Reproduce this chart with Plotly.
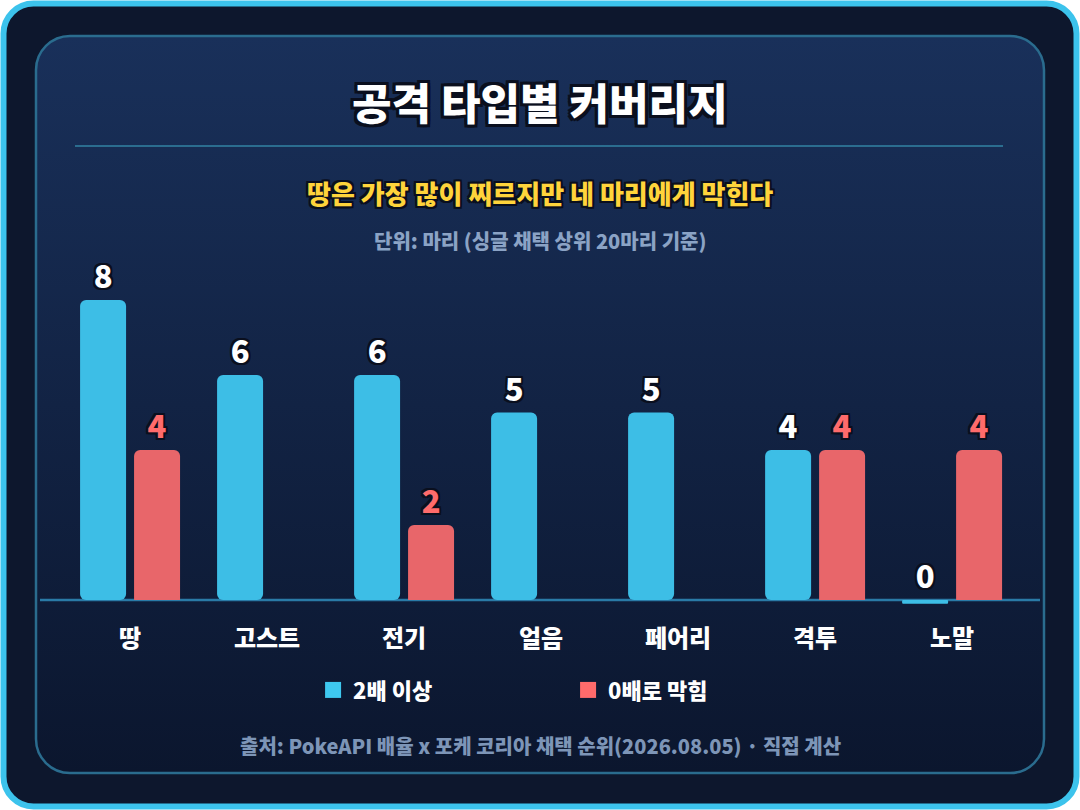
import base64
import plotly.graph_objects as go

# 공격 타입별 커버리지 (싱글 채택 상위 20마리 기준)
types = ['땅', '고스트', '전기', '얼음', '페어리', '격투', '노말']
hit_2x = [8, 6, 6, 5, 5, 4, 0]
blocked_0x = [4, None, 2, None, None, 4, 4]

BLUE = '#3dbee6'
RED = '#e8666a'
SALMON = '#ff6b6b'
FONT = 'Noto Sans CJK KR'
STUB = 0.1  # 0인 막대도 살짝 보이게

W, H = 1080, 810


def outline(px=2, color='#0a0f1e'):
    offs = [(-px, -px), (px, -px), (px, px), (-px, px), (0, px), (0, -px), (px, 0), (-px, 0)]
    return ', '.join(f'{dx}px {dy}px 0 {color}' for dx, dy in offs)


# 바깥 테두리 + 안쪽 패널 (그라데이션)
svg = f"""<svg xmlns='http://www.w3.org/2000/svg' width='{W}' height='{H}' viewBox='0 0 {W} {H}'>
<defs><linearGradient id='g' x1='0' y1='0' x2='0' y2='1'>
<stop offset='0' stop-color='#19305a'/><stop offset='1' stop-color='#0b162e'/></linearGradient></defs>
<rect x='3.5' y='3.5' width='{W - 7}' height='{H - 7}' rx='30' fill='#0d172d' stroke='#3cc3ec' stroke-width='6'/>
<rect x='36' y='36' width='1008' height='737' rx='34' fill='url(#g)' stroke='#2a6c8e' stroke-width='2.5'/>
</svg>"""
bg_src = 'data:image/svg+xml;base64,' + base64.b64encode(svg.encode()).decode()

blue_y = [v if v > 0 else STUB for v in hit_2x]
blue_base = [0 if v > 0 else -STUB for v in hit_2x]

fig = go.Figure()
fig.add_trace(go.Bar(
    x=types, y=blue_y, base=blue_base, name='2배 이상',
    marker=dict(color=BLUE, line=dict(width=0)),
    text=[str(v) for v in hit_2x], textposition='outside',
    textfont=dict(family=FONT, size=31, color='white', weight=900, shadow=outline(2)),
    cliponaxis=False, showlegend=False, hoverinfo='skip'))
fig.add_trace(go.Bar(
    x=types, y=blocked_0x, name='0배로 막힘',
    marker=dict(color=RED, line=dict(width=0)),
    text=[str(v) if v is not None else '' for v in blocked_0x], textposition='outside',
    textfont=dict(family=FONT, size=31, color=SALMON, weight=900, shadow=outline(2)),
    cliponaxis=False, showlegend=False, hoverinfo='skip'))

# 범례용
for name, col in [('2배 이상', '#3ec8ef'), ('0배로 막힘', SALMON)]:
    fig.add_trace(go.Scatter(x=[None], y=[None], mode='markers', name=name,
                             marker=dict(symbol='square', size=22, color=col)))


def label(text, ypx, size, color, weight=800, shadow=None):
    font = dict(family=FONT, size=size, color=color, weight=weight)
    if shadow:
        font['shadow'] = shadow
    return dict(text=text, x=0.5, y=1 - ypx / H, xref='paper', yref='paper',
                xanchor='center', yanchor='middle', showarrow=False, font=font)


fig.update_layout(
    width=W, height=H,
    margin=dict(l=0, r=0, t=0, b=0),
    paper_bgcolor='white',
    plot_bgcolor='rgba(0,0,0,0)',
    barmode='group', bargap=0.212, bargroupgap=0.148, barcornerradius=6,
    font=dict(family=FONT, color='white'),
    xaxis=dict(domain=[0.057, 0.945], showgrid=False, zeroline=False, showline=False,
               ticks='', ticklabelstandoff=11,
               tickfont=dict(family=FONT, size=24, color='white', weight=800)),
    yaxis=dict(domain=[0.2454, 0.6759], range=[-0.3, 9], visible=False, fixedrange=True),
    legend=dict(orientation='h', x=0.526, xanchor='center', y=0.148, yanchor='middle',
                font=dict(family=FONT, size=22, color='white', weight=800),
                entrywidth=210, entrywidthmode='pixels', bgcolor='rgba(0,0,0,0)'),
    images=[dict(source=bg_src, xref='paper', yref='paper', x=0, y=1, sizex=1, sizey=1,
                 xanchor='left', yanchor='top', sizing='stretch', layer='below')],
    shapes=[
        dict(type='line', xref='paper', yref='paper', x0=75 / W, x1=1003 / W,
             y0=1 - 146 / H, y1=1 - 146 / H, line=dict(color='#2b6d8f', width=2)),
        dict(type='line', xref='paper', yref='y', x0=40 / W, x1=1040 / W, y0=0, y1=0,
             line=dict(color='#2a7aa6', width=2.5), layer='below'),
    ],
    annotations=[
        label('공격 타입별 커버리지', 101, 43, 'white', 900, outline(3)),
        label('땅은 가장 많이 찌르지만 네 마리에게 막힌다', 192, 26, '#ffd43b', 900, outline(2)),
        label('단위: 마리 (싱글 채택 상위 20마리 기준)', 240, 20, '#8ba3c5'),
        label('출처: PokeAPI 배율 x 포케 코리아 채택 순위(2026.08.05) · 직접 계산', 745, 20, '#7d95b7'),
    ],
)

fig.write_html('out.html', config={'displayModeBar': False},
               post_script="document.body.style.margin='0';")
